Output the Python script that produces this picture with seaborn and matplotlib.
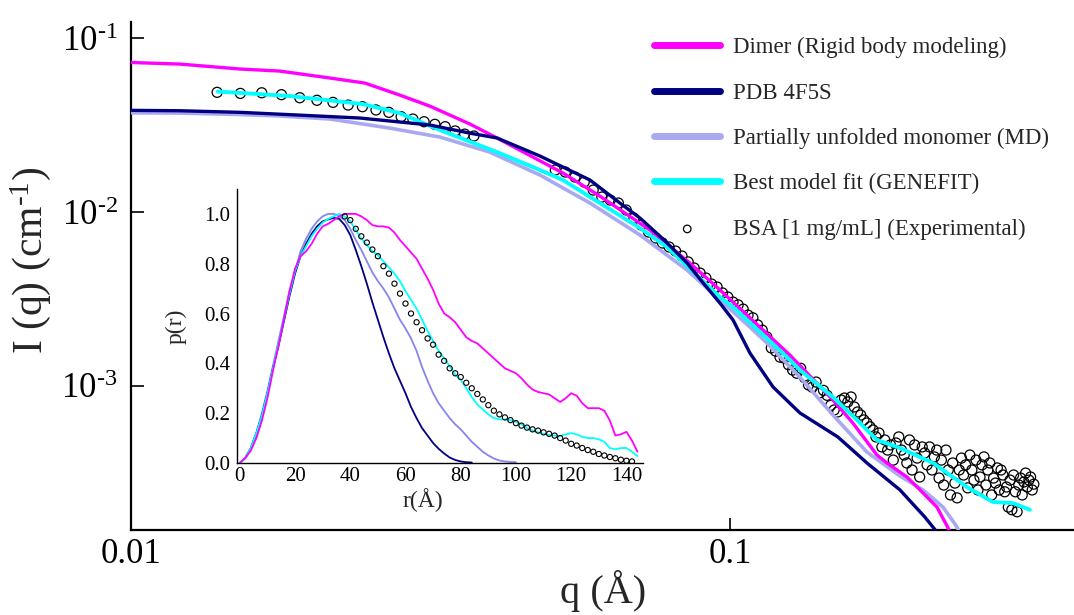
import numpy as np
import pandas as pd
import matplotlib
matplotlib.use("Agg")
import matplotlib.pyplot as plt
from matplotlib.ticker import NullLocator, FixedLocator
import seaborn as sns

# ---------------- main SAXS curves: I(q) ----------------
q_dimer = [0.0100, 0.01205, 0.01518, 0.01769, 0.02145, 0.02452, 0.02802, 0.0315, 0.03674, 0.04075,
           0.04446, 0.05253, 0.06052, 0.07337, 0.0855, 0.09605,
           0.1257, 0.1483, 0.1601, 0.1756, 0.1825, 0.1971, 0.2073, 0.2212, 0.2308, 0.2370]
I_dimer = [0.0726, 0.0711, 0.0666, 0.0648, 0.0591, 0.0553, 0.0472, 0.0407, 0.0321, 0.0267,
           0.02275, 0.01677, 0.01236, 0.00788, 0.00509, 0.00356,
           0.00150, 0.000827, 0.000610, 0.000399, 0.000359, 0.000298, 0.000251, 0.000200, 0.000152, 0.000121]

q_pdb = [0.0100, 0.01205, 0.01518, 0.01889, 0.02407, 0.03150, 0.03674, 0.04075, 0.04808, 0.05829,
         0.0654, 0.07063, 0.0775, 0.08462, 0.08895,
         0.09605, 0.1010, 0.1078, 0.1178, 0.1306, 0.1511, 0.1690, 0.1919, 0.2112, 0.2281]
I_pdb = [0.0385, 0.0383, 0.0375, 0.0362, 0.03477, 0.0317, 0.02845, 0.0267, 0.02101, 0.01528,
         0.01126, 0.00923, 0.0069, 0.00509, 0.00411,
         0.00299, 0.00239, 0.00154, 0.000983, 0.000697, 0.000507, 0.000359, 0.000251, 0.000175, 0.000126]

q_md = [0.0100, 0.01205, 0.01518, 0.01769, 0.02145, 0.02696, 0.03273, 0.03964, 0.04808, 0.05829,
        0.07063, 0.08462, 0.1091, 0.1151, 0.1306,
        0.1483, 0.1690, 0.1919, 0.2097, 0.2264, 0.2388, 0.2463]
I_md = [0.03725, 0.03714, 0.03642, 0.03571, 0.03431, 0.03045, 0.02702, 0.02215, 0.01633, 0.01126,
        0.007374, 0.004636, 0.002093, 0.00176, 0.00112,
        0.000678, 0.000415, 0.000302, 0.000251, 0.000200, 0.000154, 0.000121]

q_fit = [0.01394, 0.01839, 0.02435, 0.02802, 0.03273, 0.04075, 0.04808, 0.05253, 0.07063, 0.07834,
         0.09605, 0.1010, 0.1243, 0.1306, 0.1483, 0.1626, 0.1756, 0.1919, 0.2179, 0.2482,
         0.2743, 0.2962, 0.3162]
I_fit = [0.0494, 0.04655, 0.04184, 0.03714, 0.02966, 0.02215, 0.01745, 0.01528, 0.00809, 0.00629,
         0.00324, 0.00284, 0.00146, 0.00123, 0.000861, 0.000635, 0.000487, 0.000438, 0.000359, 0.000261,
         0.000214, 0.000211, 0.000193]

q_exp = [0.0139, 0.0152, 0.0165, 0.0178, 0.0191, 0.0204, 0.0217, 0.0230, 0.0243, 0.0256,
         0.0269, 0.0282, 0.0295, 0.0308, 0.0321, 0.0334, 0.0347, 0.0360, 0.0373,
         0.051, 0.053, 0.055, 0.057, 0.059, 0.061, 0.063, 0.065, 0.067, 0.069,
         0.071, 0.073, 0.075, 0.077, 0.079, 0.081, 0.083, 0.085, 0.087, 0.089,
         0.091, 0.093, 0.095, 0.097, 0.099, 0.101, 0.103, 0.105, 0.107, 0.109,
         0.111, 0.113, 0.115, 0.117, 0.119, 0.121, 0.123, 0.125, 0.127, 0.129,
         0.131, 0.133, 0.135, 0.137, 0.139, 0.141, 0.143, 0.145, 0.147, 0.149,
         0.151, 0.153, 0.155, 0.157, 0.159, 0.161, 0.163, 0.165, 0.167, 0.169,
         0.171, 0.173, 0.175, 0.177, 0.179, 0.181, 0.183, 0.185, 0.187, 0.189,
         0.191, 0.193, 0.195, 0.197, 0.199, 0.201, 0.203, 0.205, 0.207, 0.209,
         0.211, 0.213, 0.215, 0.217, 0.219, 0.221, 0.223, 0.225, 0.227, 0.229,
         0.231, 0.233, 0.235, 0.237, 0.239, 0.241, 0.243, 0.245, 0.247, 0.249,
         0.251, 0.253, 0.255, 0.257, 0.259, 0.261, 0.263, 0.265, 0.267, 0.269,
         0.271, 0.273, 0.275, 0.277, 0.279, 0.281, 0.283, 0.285, 0.287, 0.289,
         0.291, 0.293, 0.295, 0.297, 0.299, 0.301, 0.303, 0.305, 0.307, 0.309,
         0.311, 0.313, 0.315, 0.317, 0.319, 0.321]
I_exp = [0.0489, 0.0482, 0.0486, 0.0474, 0.0455, 0.0440, 0.0428, 0.0413, 0.0404, 0.0387,
         0.0375, 0.0354, 0.0343, 0.0331, 0.0320, 0.0310, 0.0293, 0.0281, 0.0274,
         0.01745, 0.01700, 0.01590, 0.01488, 0.01338, 0.01220, 0.01172, 0.01127, 0.01027, 0.00922,
         0.00842, 0.00767, 0.00709, 0.00663, 0.00629, 0.00596, 0.00558, 0.00516, 0.00476, 0.00445,
         0.00417, 0.00385, 0.00370, 0.00342, 0.00324, 0.00303, 0.00292, 0.00276, 0.00255, 0.00246,
         0.00224, 0.00209, 0.00191, 0.00165, 0.00158, 0.00146, 0.00144, 0.00132, 0.00123, 0.00118,
         0.00126, 0.00111, 0.00101, 0.00098, 0.00105, 0.00091, 0.00094, 0.00088, 0.00077, 0.000725,
         0.000706, 0.000827, 0.000849, 0.000806, 0.000861, 0.000754, 0.000706, 0.000678, 0.000635, 0.000610,
         0.000580, 0.000556, 0.000507, 0.000534, 0.000444, 0.000487, 0.000426, 0.000456, 0.000373, 0.000468,
         0.000507, 0.000426, 0.000399, 0.000359, 0.000487, 0.000327, 0.000456, 0.000383, 0.000298, 0.000444,
         0.000410, 0.000350, 0.000444, 0.000327, 0.000389, 0.000426, 0.000294, 0.000373, 0.000268, 0.000426,
         0.000327, 0.000235, 0.000359, 0.000275, 0.000226, 0.000327, 0.000383, 0.000306, 0.000350, 0.000258,
         0.000399, 0.000327, 0.000286, 0.000373, 0.000251, 0.000298, 0.000350, 0.000389, 0.000268, 0.000327,
         0.000359, 0.000235, 0.000294, 0.000275, 0.000336, 0.000251, 0.000327, 0.000306, 0.000245, 0.000261,
         0.000200, 0.000286, 0.000193, 0.000306, 0.000245, 0.000188, 0.000268, 0.000294, 0.000235, 0.000279,
         0.000314, 0.000261, 0.000286, 0.000298, 0.000251, 0.000271]

# ---------------- inset: p(r) ----------------
r_grid = [0, 2, 4, 6, 8, 10, 12, 14, 16, 18, 20, 22, 24, 26, 28, 30, 32, 34, 36, 38,
          40, 42, 44, 46, 48, 50, 52, 54, 56, 58, 60, 62, 64, 66, 68, 70, 72, 74, 76, 78,
          80, 82, 84, 86, 88, 90, 92, 94, 96, 98, 100, 102, 104, 106, 108, 110, 112, 114, 116, 118,
          120, 122, 124, 126, 128, 130, 132, 134, 136, 138, 140, 142, 144]

p_dimer = [0, 0.02, 0.05, 0.10, 0.17, 0.26, 0.37, 0.47, 0.58, 0.69,
           0.78, 0.83, 0.85, 0.88, 0.92, 0.95, 0.96, 0.975, 0.99, 1.0,
           1.0, 1.0, 0.99, 0.975, 0.955, 0.95, 0.95, 0.945, 0.925, 0.895,
           0.87, 0.845, 0.82, 0.78, 0.74, 0.695, 0.64, 0.60, 0.585, 0.565,
           0.535, 0.505, 0.49, 0.48, 0.46, 0.44, 0.42, 0.40, 0.38, 0.37,
           0.36, 0.34, 0.315, 0.295, 0.285, 0.28, 0.275, 0.26, 0.245, 0.26,
           0.28, 0.27, 0.24, 0.22, 0.22, 0.22, 0.21, 0.17, 0.11, 0.115,
           0.125, 0.09, 0.045]
p_pdb = [0, 0.02, 0.06, 0.12, 0.19, 0.28, 0.38, 0.47, 0.57, 0.67,
         0.76, 0.83, 0.88, 0.92, 0.95, 0.97, 0.978, 0.984, 0.98, 0.955,
         0.915, 0.855, 0.79, 0.72, 0.645, 0.575, 0.505, 0.44, 0.38, 0.33,
         0.28, 0.225, 0.18, 0.14, 0.11, 0.08, 0.057, 0.038, 0.022, 0.012,
         0.006, 0.003, 0.002]
p_md = [0, 0.02, 0.06, 0.12, 0.20, 0.29, 0.39, 0.49, 0.59, 0.69,
        0.77, 0.85, 0.90, 0.94, 0.97, 0.99, 1.0, 1.0, 0.99, 0.975,
        0.94, 0.895, 0.855, 0.81, 0.765, 0.73, 0.70, 0.665, 0.62, 0.575,
        0.54, 0.50, 0.45, 0.385, 0.33, 0.28, 0.24, 0.21, 0.18, 0.155,
        0.135, 0.11, 0.085, 0.065, 0.045, 0.03, 0.018, 0.01, 0.006, 0.004,
        0.003]
p_fit = [0, 0.02, 0.06, 0.12, 0.19, 0.28, 0.38, 0.48, 0.58, 0.68,
         0.77, 0.83, 0.87, 0.91, 0.94, 0.965, 0.98, 0.99, 1.0, 0.99,
         0.97, 0.935, 0.90, 0.875, 0.85, 0.835, 0.81, 0.785, 0.76, 0.73,
         0.69, 0.655, 0.62, 0.575, 0.53, 0.49, 0.45, 0.42, 0.39, 0.355,
         0.335, 0.30, 0.265, 0.235, 0.215, 0.195, 0.18, 0.175, 0.175, 0.172,
         0.165, 0.155, 0.14, 0.13, 0.123, 0.117, 0.112, 0.11, 0.108, 0.115,
         0.12, 0.115, 0.105, 0.10, 0.10, 0.095, 0.085, 0.06, 0.055, 0.06,
         0.06, 0.045, 0.028]
p_exp = [0.99, 0.975, 0.94, 0.91, 0.885, 0.857, 0.83, 0.79, 0.76, 0.72,
         0.68, 0.64, 0.60, 0.565, 0.533, 0.50, 0.475, 0.435, 0.41, 0.38,
         0.36, 0.345, 0.322, 0.30, 0.277, 0.255, 0.232, 0.21, 0.195, 0.183,
         0.172, 0.16, 0.15, 0.142, 0.135, 0.13, 0.123, 0.117, 0.11, 0.10,
         0.09, 0.077, 0.07, 0.06, 0.052, 0.045, 0.036, 0.03, 0.024, 0.019,
         0.013, 0.009, 0.006]
r_exp = r_grid[19:19 + len(p_exp)]

labels = ["Dimer (Rigid body modeling)", "PDB 4F5S", "Partially unfolded monomer (MD)",
          "Best model fit (GENEFIT)", "BSA [1 mg/mL] (Experimental)"]
x_ticks = [0.01, 0.1]
x_ticklabels = ["0.01", "0.1"]
y_ticks = [1e-3, 1e-2, 1e-1]
y_ticklabels = [r"$\mathregular{10^{\text{-3}}}$", r"$\mathregular{10^{\text{-2}}}$",
                r"$\mathregular{10^{\text{-1}}}$"]

C_DIMER = "#FF00FF"
C_PDB = "#000080"
C_MD = "#A9A9F2"
C_MD_IN = "#8585EE"
C_FIT = "#00FFFF"

sns.set_theme(style="ticks")
plt.rcParams["font.family"] = ["Liberation Serif", "DejaVu Serif"]
plt.rcParams["mathtext.fontset"] = "custom"
plt.rcParams["mathtext.rm"] = "Liberation Serif"
plt.rcParams["mathtext.it"] = "Liberation Serif:italic"

fig = plt.figure(figsize=(10.74, 6.15), dpi=100)
ax = fig.add_axes([0.1224, 0.1382, 0.8776, 0.8265])
ax.set_xscale("log")
ax.set_yscale("log")

sns.scatterplot(x=q_exp, y=I_exp, ax=ax, marker="o", s=52, facecolors="none",
                edgecolor="black", linewidth=0.9, zorder=2)
h_exp = ax.collections[-1]
sns.lineplot(x=q_md, y=I_md, ax=ax, color=C_MD, linewidth=2.6, estimator=None, sort=False, zorder=3)
h_md = ax.lines[-1]
sns.lineplot(x=q_dimer, y=I_dimer, ax=ax, color=C_DIMER, linewidth=2.4, estimator=None, sort=False, zorder=4)
h_dimer = ax.lines[-1]
sns.lineplot(x=q_fit, y=I_fit, ax=ax, color=C_FIT, linewidth=2.8, estimator=None, sort=False, zorder=5)
h_fit = ax.lines[-1]
sns.lineplot(x=q_pdb, y=I_pdb, ax=ax, color=C_PDB, linewidth=2.4, estimator=None, sort=False, zorder=6)
h_pdb = ax.lines[-1]

ax.set_xlim(0.01, 0.3746)
ax.set_ylim(1.476e-4, 0.1247)
ax.xaxis.set_major_locator(FixedLocator(x_ticks))
ax.xaxis.set_minor_locator(NullLocator())
ax.yaxis.set_major_locator(FixedLocator(y_ticks))
ax.yaxis.set_minor_locator(NullLocator())
ax.set_xticklabels(x_ticklabels)
ax.set_yticklabels(y_ticklabels)
ax.tick_params(axis="both", which="major", direction="in", length=9, width=1.2,
               labelsize=25, colors="black")
ax.tick_params(axis="y", pad=10)
ax.tick_params(axis="x", pad=6)
for side in ["top", "right"]:
    ax.spines[side].set_visible(False)
for side in ["left", "bottom"]:
    ax.spines[side].set_linewidth(1.6)
    ax.spines[side].set_color("black")
ax.set_xlabel("q (Å)", fontsize=29, labelpad=-1)
ax.set_ylabel(r"I (q) (cm$^{\mathregular{\text{-1}}}$)", fontsize=30)
ax.yaxis.set_label_coords(-0.083, 0.53)

leg = ax.legend([h_dimer, h_pdb, h_md, h_fit, h_exp], labels,
                loc="upper left", bbox_to_anchor=(654 / 1074, 1 - 37 / 615),
                bbox_transform=fig.transFigure, frameon=False, fontsize=16.5,
                handlelength=2.9, handletextpad=0.55, labelspacing=1.06,
                borderpad=0, borderaxespad=0, markerscale=0.75)
for h in leg.legend_handles[:4]:
    h.set_linewidth(5)

# ---------------- inset ----------------
axi = fig.add_axes([0.2207, 0.2472, 0.378, 0.4455])
axi.set_facecolor("none")
sns.lineplot(x=r_grid[:len(p_md)], y=p_md, ax=axi, color=C_MD_IN, linewidth=1.3, estimator=None, sort=False)
sns.lineplot(x=r_grid[:len(p_pdb)], y=p_pdb, ax=axi, color=C_PDB, linewidth=1.3, estimator=None, sort=False)
sns.lineplot(x=r_grid[:len(p_fit)], y=p_fit, ax=axi, color=C_FIT, linewidth=1.3, estimator=None, sort=False)
sns.lineplot(x=r_grid[:len(p_dimer)], y=p_dimer, ax=axi, color=C_DIMER, linewidth=1.3, estimator=None, sort=False)
sns.scatterplot(x=r_exp, y=p_exp, ax=axi, marker="o", s=14, facecolors="none",
                edgecolor="black", linewidth=0.8, zorder=5)
axi.set_xlim(-1, 146)
axi.set_ylim(0, 1.1)
axi.set_xticks([0, 20, 40, 60, 80, 100, 120, 140])
axi.set_yticks([0.0, 0.2, 0.4, 0.6, 0.8, 1.0])
axi.set_yticklabels(["0.0", "0.2", "0.4", "0.6", "0.8", "1.0"])
axi.tick_params(axis="both", length=0, labelsize=15, colors="black")
axi.tick_params(axis="y", pad=5)
axi.tick_params(axis="x", pad=3)
for side in ["top", "right"]:
    axi.spines[side].set_visible(False)
for side in ["left", "bottom"]:
    axi.spines[side].set_linewidth(1.0)
    axi.spines[side].set_color("black")
axi.set_xlabel("r(Å)", fontsize=17)
axi.set_ylabel("p(r)", fontsize=17)
axi.xaxis.set_label_coords(0.458, -0.09)
axi.yaxis.set_label_coords(-0.125, 0.5)

fig.savefig("out.png", dpi=100)
